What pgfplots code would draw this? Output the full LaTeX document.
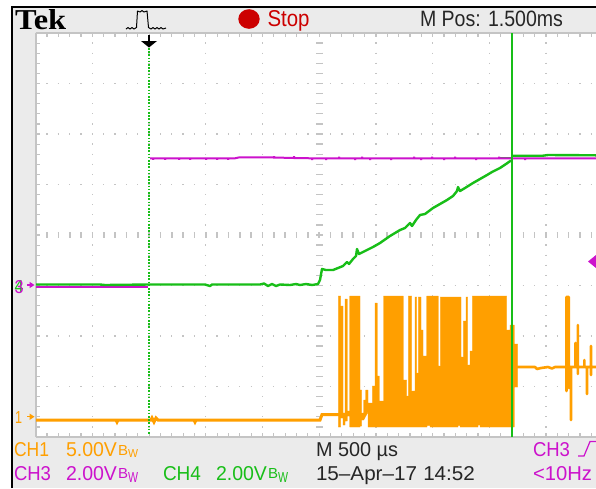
\documentclass[border=0pt]{standalone}
\usepackage{graphicx}
\usepackage{fontspec}
\setmainfont{Liberation Sans}
\newfontfamily\tekfont{Liberation Serif}
\usepackage{pgfplots}
\pgfplotsset{compat=1.18}
\definecolor{panel}{HTML}{EBEBEB}
\definecolor{gridc}{HTML}{C4C4C4}
\definecolor{oran}{HTML}{FF9F00}
\definecolor{gree}{HTML}{18BE18}
\definecolor{magn}{HTML}{CC12CC}
\definecolor{redd}{HTML}{CC0000}
\newcommand{\lbl}[6]{\node[anchor=base west,inner sep=0pt,outer sep=0pt,text=#3] at (axis cs:#1,#2) {\resizebox{#4pt}{#5pt}{#6}};}
\begin{document}
\begin{tikzpicture}[x=1pt,y=1pt]
\fill[white] (0,0) rectangle (596,488);
\fill[panel] (11.5,0) rectangle (596,481);
\draw[black,line width=2pt] (11.5,0) -- (11.5,481) -- (596,481);
\begin{axis}[
  at={(35.7pt,51pt)},anchor=south west,
  scale only axis,width=560.3pt,height=404pt,
  xmin=35.7,xmax=596,ymin=33,ymax=437,y dir=reverse,
  clip=false,
  axis background/.style={fill=white},
  axis y line=left,axis x line=box,
  axis line style={-,gridc,line width=1.6pt},
  xtick={92.4,149.1,205.8,262.5,375.9,432.6,489.3,546},
  ytick={83.5,134,184.5,285.5,336,386.5},
  minor xtick={35.7,47.04,...,596},
  minor ytick={33,43.1,...,437},
  xticklabels={},yticklabels={},
  tick align=inside,
  major tick length=4pt,minor tick length=4pt,
  tick style={gridc,line width=1.2pt},
  xmajorgrids,ymajorgrids,
  x grid style={gridc,line width=1.3pt,dash pattern=on 1.3pt off 8.8pt,dash phase=0.65pt},
  y grid style={gridc,line width=1.3pt,dash pattern=on 1.3pt off 10.04pt,dash phase=0.65pt},
  extra x ticks={319.2},extra x tick labels={},
  extra x tick style={x grid style={gridc,line width=7pt,dash pattern=on 1.3pt off 8.8pt,dash phase=0.65pt}},
  extra y ticks={235},extra y tick labels={},
  extra y tick style={y grid style={gridc,line width=6pt,dash pattern=on 1.6pt off 9.74pt,dash phase=0.8pt}},
]
% CH1 burst: columns of the envelope
\addplot[draw=oran,fill=oran,line width=0.3pt] coordinates {
(338.3,427)(338.3,296)(340.7,296)(340.7,306)(343,306)(343,413)(345,413)(345,299)(347.3,299)
(347.3,411)(349.7,411)(349.7,296)(360,296)(360,390)(361.7,390)(361.7,413)(363.7,413)(363.7,400)(365.7,400)
(365.7,390)(368,390)(368,403)(372.3,403)(372.3,386)(375,386)(375,303)(377.3,303)(377.3,376)(379.3,376)
(379.3,401)(383.5,401)(383.5,296)(403.3,296)(403.3,380)(406.7,380)(406.7,396)(408.3,396)(408.3,296)(411.7,296)
(411.7,391)(415,391)(415,297)(416.7,297)(416.7,373)(418.3,373)(418.3,297)(421,297)(421,330)(423,330)
(423,356)(426.7,356)(426.7,296)(438.3,296)(438.3,366)(440.3,366)(440.3,297)(461,297)(461,357)(463.3,357)
(463.3,321)(466,321)(466,297)(467.7,297)(467.7,365)(470,365)(470,351)(472.3,351)(472.3,296)(506.7,296)
(506.7,330)(510,330)(510,325)(514.3,325)(514.3,344)(517.7,344)
(517.7,387)(514.3,387)(514.3,427)(480,427)(480,425)(478,425)(478,427)(460,427)(460,425.5)(458,425.5)(458,427)
(430,427)(430,425.5)(427,425.5)(427,427)(368,427)
(368,412)(363.7,420)(361.7,420)(361.7,426)(360,426)(360,427)(349.7,427)(349.7,416)(347.3,416)(347.3,421)(345,421)(345,425)(343,425)(343,418)(340.7,418)(340.7,427)
} --cycle;
% CH1 baseline and after the burst
\addplot[oran,line width=3pt] coordinates {
(36,420)(116,420)(117,422)(118,420)(151,420)(152,418)(154,422)(156,418)(158,420)(194,420)(195,422)(196,420)(320,420)(322,414.5)(339,414.5)};
\addplot[oran,line width=2.6pt,line join=round] coordinates {
(517,367)(535,367)(537,369)(541,368)(548,367)(552,368.5)(555,367)(565,367)
(566.5,367)(566.5,391)(566.5,297)(568.8,297)(568.8,388)(568.8,367)(571,367)(571,420)(571,367)(575.5,367)
(575.5,343)(575.5,367)(577.8,367)(577.8,325)(577.8,374)(577.8,367)(584.3,367)(584.3,360)(584.3,367)
(587,367)(587,394)(587,367)(591,367)(591,346)(591,375)(591,367)(596,367)};
% CH3
\addplot[magn,line width=2.2pt] coordinates {(36,287)(148,287)};
% CH4
\addplot[gree,line width=2.4pt,line join=round] coordinates {
(36,284.5)(100,284.5)(105,285)(149,284.5)(170,284.5)(190,284.5)(205,284.5)(210,286)(212,284.5)(260,284.5)(264,283.5)(268,286)(272,284)(276,286)(280,284.5)(290,285)(296,284)(300,285)(306,284)(312,285)(318,284)(320,280)(322,269)(326,270)(333,270)
(338,268)(343,266)(347,262)(349,264)(353,259)(356,256)(357,249)(359,254)(367,250)(373,247)(380,243)(390,236)(400,230)(405,228)(410,223)(412,226)(416,220)(420,215)(425,214)(433,208)(440,204)(447,200)(453,196)(457,191)(458,187)(460,191)(465,188)(473,183)(480,179)(487,175)(492,172)(500,168)(506,164)(511,160.5)};
\addplot[gree,line width=1.5pt] coordinates {(498,157.5)(511,157.5)};
\addplot[gree,line width=2.4pt] coordinates {(512,155.7)(543,155.7)(548,155)(596,155.3)};
\addplot[magn,line width=2pt] coordinates {
(150,158.3)(153,158.3)(153,159.8)(153,158.3)(165,158.3)(165,159.8)(165,158.3)(179,158.3)(179,159.8)(179,158.3)(190,158.3)(190,159.8)(190,158.3)(206,158.3)(206,159.8)(206,158.3)(217,158.3)(217,159.8)(217,158.3)(228,158.3)(228,159.8)(228,158.3)(235,158.3)(239.5,157.3)(246,157.3)(274,157.5)(274,156)(274,157.5)(294,158)(294,156)(294,158)
(312,158.3)(312,160)(312,158.3)(326,158.3)(326,160)(326,158.3)(339,158.3)(339,156.5)(339,158.3)(355,158.3)(355,160)(355,158.3)(362,158.3)(362,156.5)(362,158.3)(370,158.3)(370,160)(370,158.3)(391,158.3)(391,160)(391,158.3)(414,158.3)(414,156.5)(414,158.3)(421,158.3)(421,160)(421,158.3)(432,158.3)(432,156.5)(432,158.3)(444,158.3)(444,160)(444,158.3)(455,158.3)(455,156.5)(455,158.3)(476,158.3)(476,160)(476,158.3)(499,158.3)(499,156.5)(499,158.3)(525,158.3)(525,160)(525,158.3)(596,158.3)};
% cursors
\addplot[gree,line width=1.6pt,dash pattern=on 1.6pt off 1.6pt] coordinates {(149,48)(149,435)};
\addplot[gree,line width=2pt] coordinates {(511.7,33)(511.7,437)};
% markers
\fill[magn] (axis cs:588,261.5)--(axis cs:596,255)--(axis cs:596,268)--cycle;
\draw[black,line width=1.6pt] (axis cs:149,35)--(axis cs:149,42);
\fill[black] (axis cs:141,41)--(axis cs:157,41)--(axis cs:149,47.5)--cycle;
% header
\node[anchor=base west,inner sep=0pt] at (axis cs:15,29) {\resizebox{51pt}{20pt}{\tekfont\bfseries Tek}};
\draw[black,line width=1pt,line join=round] (axis cs:126,29)--(axis cs:128,27.5)--(axis cs:130,29)--(axis cs:132,27.5)--(axis cs:134,29)--(axis cs:136.5,27.5)--(axis cs:137.5,11)--(axis cs:140,12)--(axis cs:142,10.5)--(axis cs:144,12)--(axis cs:147,11)--(axis cs:148.5,27.5)--(axis cs:151,29)--(axis cs:153,27.5)--(axis cs:155,29)--(axis cs:157,27.5)--(axis cs:159,29)--(axis cs:161,27.5)--(axis cs:163,29)--(axis cs:166,28);
\fill[redd] (axis cs:249,19) ellipse [x radius=10.7pt,y radius=9.8pt];
\lbl{267.5}{26}{redd}{42}{16}{Stop}
\lbl{420}{26}{black!85}{143}{15.5}{M Pos: 1.500ms}
% ground markers
\lbl{15}{423}{oran}{7}{12}{1}
\draw[oran,line width=1.3pt] (axis cs:27,416.7)--(axis cs:31,416.7);
\fill[oran] (axis cs:29.5,413.5)--(axis cs:34.5,416.7)--(axis cs:29.5,420)--cycle;
\lbl{14.5}{292.5}{gree}{9}{12}{4}
\lbl{14.5}{293}{magn}{9}{13}{3}
\draw[magn,line width=1.3pt] (axis cs:27,285)--(axis cs:31,285);
\fill[magn] (axis cs:29.5,281.8)--(axis cs:34.5,285)--(axis cs:29.5,288.2)--cycle;
% footer
\lbl{14}{456}{oran}{35}{14}{CH1}
\lbl{66}{456}{oran}{51}{14}{5.00V}
\lbl{118}{455}{oran}{10}{10}{B}
\lbl{128}{457}{oran}{10}{8}{W}
\lbl{14}{480}{magn}{37}{14}{CH3}
\lbl{66}{480}{magn}{51}{14}{2.00V}
\lbl{118}{478}{magn}{10}{10}{B}
\lbl{128}{482.5}{magn}{10}{10}{W}
\lbl{163}{480}{gree}{38}{14}{CH4}
\lbl{216}{480}{gree}{51}{14}{2.00V}
\lbl{268}{478}{gree}{10}{10}{B}
\lbl{278}{482.5}{gree}{10}{10}{W}
\lbl{316}{456}{black!85}{82}{14}{M 500 µs}
\lbl{316}{480}{black!85}{159}{14}{15–Apr–17\hspace{0.3em}14:52}
\lbl{533}{456}{magn}{37}{14}{CH3}
\draw[magn,line width=1.2pt] (axis cs:578,456)--(axis cs:584,456)--(axis cs:590,441.5)--(axis cs:596,441.5);
\lbl{533}{480}{magn}{59}{14}{<10Hz}
\end{axis}
\pgfresetboundingbox
\path[use as bounding box] (0,0) rectangle (596,488);
\end{tikzpicture}
\end{document}
